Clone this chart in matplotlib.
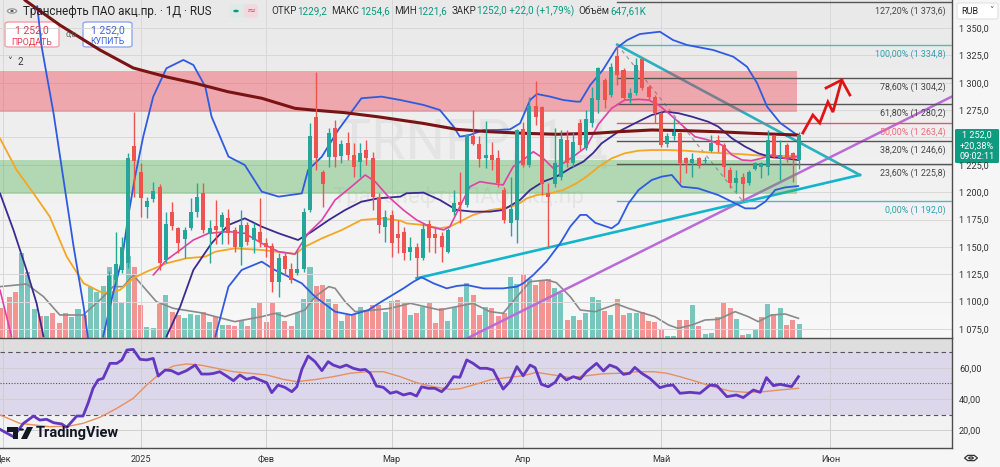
import numpy as np
import matplotlib.pyplot as plt
from matplotlib.patches import FancyBboxPatch, Circle, Polygon, RegularPolygon, Rectangle
from matplotlib.colors import LinearSegmentedColormap

plt.rcParams['font.family'] = ['Roboto', 'DejaVu Sans']

# ---------------- data (bar index = trading day, 0 = 2 Dec 2024) ----------------
month_bars = [0, 22, 42, 62, 83, 105, 132]
month_labels = ['Дек', '2025', 'Фев', 'Мар', 'Апр', 'Май', 'Июн']

candle_bars = list(range(17, 128))
opens = [1062, 1120, 1129, 1135, 1242.2, 1218.8, 1186.2, 1193.5, 1205.1, 1138.0,
         1182.2, 1167.0, 1156.9, 1167.6, 1182.2, 1198.9, 1161.8, 1169.0, 1168.5, 1176.0,
         1165.5, 1150.2, 1170.0, 1156.3, 1164.0, 1153.3, 1150.8, 1118.2, 1141.7, 1129.5,
         1125.8, 1129.5, 1183.7, 1269.0, 1218.8, 1232.5, 1258.3, 1233.0, 1244.6, 1234.0,
         1228.0, 1238.5, 1231.0, 1195.9, 1168.5, 1179.0, 1162.0, 1164.0, 1145.6, 1150.2,
         1139.6, 1171.0, 1161.8, 1160.3, 1145.6, 1182.2, 1191.3, 1188.3, 1251.3, 1244.0,
         1231.0, 1234.0, 1231.0, 1202.0, 1172.0, 1175.0, 1257.4, 1225.0, 1278.8, 1278.0,
         1199.6, 1207.5, 1214.2, 1247.7, 1226.4, 1262.9, 1240.0, 1263.0, 1284.3, 1302.5,
         1288.8, 1324.4, 1311.7, 1285.8, 1290.3, 1321.4, 1296.4, 1287.3, 1272.0, 1244.0,
         1251.3, 1254.4, 1230.9, 1227.0, 1231.0, 1228.5, 1238.0, 1247.7, 1243.1, 1220.3,
         1208.1, 1214.2, 1208.7, 1220.9, 1222.7, 1223.3, 1251.3, 1231.0, 1243.1, 1235.5,
         1229.2]
highs = [1128, 1164, 1159, 1236, 1273.6, 1226.4, 1195.9, 1209.6, 1207.5, 1182.2,
         1191.3, 1168.5, 1168.5, 1194.4, 1208.1, 1208.1, 1175.0, 1193.0, 1182.0, 1185.0,
         1168.5, 1183.7, 1173.0, 1171.5, 1194.4, 1157.8, 1153.3, 1144.1, 1144.1, 1135.0,
         1147.2, 1185.2, 1263.0, 1310.1, 1220.3, 1258.3, 1266.0, 1247.7, 1255.3, 1244.6,
         1244.6, 1247.7, 1237.0, 1199.0, 1183.7, 1183.7, 1174.6, 1168.5, 1159.4, 1153.3,
         1171.5, 1174.6, 1168.5, 1164.0, 1167.0, 1202.0, 1218.8, 1253.2, 1275.1, 1251.3,
         1265.4, 1246.1, 1238.5, 1205.1, 1214.0, 1257.4, 1264.4, 1287.3, 1301.9, 1278.8,
         1208.1, 1258.3, 1256.8, 1256.8, 1255.3, 1266.6, 1275.1, 1296.4, 1314.7, 1304.0,
         1317.7, 1334.8, 1313.2, 1294.9, 1322.3, 1322.3, 1298.0, 1288.8, 1273.6, 1253.8,
         1267.5, 1255.3, 1232.5, 1235.5, 1232.5, 1232.0, 1252.3, 1252.3, 1244.6, 1223.3,
         1220.3, 1217.2, 1220.3, 1227.9, 1227.9, 1256.8, 1252.3, 1247.7, 1244.6, 1237.0,
         1254.6]
lows = [1050, 1116, 1126, 1131, 1195.9, 1177.6, 1176.0, 1191.3, 1128.9, 1135.0,
        1165.5, 1144.1, 1139.6, 1165.5, 1177.6, 1162.4, 1135.0, 1153.0, 1153.0, 1153.0,
        1145.6, 1133.5, 1151.8, 1144.1, 1150.2, 1141.0, 1109.1, 1104.5, 1124.3, 1116.7,
        1124.3, 1127.0, 1182.2, 1220.3, 1186.8, 1223.3, 1223.3, 1226.4, 1229.4, 1214.2,
        1214.2, 1224.8, 1183.7, 1162.4, 1154.8, 1141.0, 1144.0, 1138.0, 1138.0, 1121.3,
        1138.0, 1145.6, 1144.1, 1136.5, 1144.1, 1179.2, 1171.5, 1186.8, 1243.1, 1223.3,
        1221.8, 1220.3, 1205.1, 1171.5, 1160.0, 1153.3, 1223.3, 1223.3, 1261.4, 1197.4,
        1150.2, 1205.1, 1211.2, 1223.3, 1223.3, 1238.5, 1238.5, 1260.0, 1272.0, 1276.6,
        1287.3, 1297.9, 1284.3, 1281.2, 1288.8, 1293.4, 1284.3, 1263.0, 1241.6, 1241.6,
        1248.0, 1208.1, 1217.2, 1214.2, 1221.8, 1226.0, 1237.0, 1237.0, 1214.2, 1203.5,
        1200.5, 1192.0, 1206.6, 1220.3, 1212.6, 1215.7, 1230.9, 1211.2, 1227.9, 1209.6,
        1221.6]
closes = [1123, 1134, 1150, 1231, 1228.8, 1194.4, 1192.2, 1201.4, 1135.0, 1170.9,
          1169.1, 1153.3, 1165.5, 1182.2, 1195.9, 1165.5, 1167.6, 1165.0, 1179.2, 1163.0,
          1150.2, 1170.0, 1154.8, 1167.0, 1154.8, 1149.6, 1118.2, 1139.6, 1129.5, 1119.8,
          1129.5, 1182.2, 1251.3, 1230.9, 1207.5, 1254.4, 1232.5, 1244.0, 1234.0, 1223.3,
          1235.5, 1231.0, 1195.9, 1170.0, 1177.0, 1153.3, 1158.0, 1144.1, 1149.6, 1139.6,
          1166.1, 1157.8, 1157.8, 1150.2, 1165.5, 1190.4, 1188.3, 1252.3, 1244.0, 1230.0,
          1234.0, 1229.4, 1208.1, 1174.6, 1185.0, 1256.8, 1224.8, 1278.8, 1268.4, 1207.5,
          1195.3, 1226.4, 1248.3, 1226.4, 1246.1, 1243.1, 1266.6, 1285.8, 1313.2, 1284.3,
          1314.7, 1307.1, 1285.8, 1291.0, 1316.2, 1294.9, 1287.3, 1272.0, 1243.1, 1251.3,
          1255.3, 1226.4, 1226.4, 1230.0, 1224.0, 1229.4, 1244.6, 1243.1, 1223.3, 1208.1,
          1212.6, 1207.5, 1218.8, 1226.4, 1226.4, 1247.7, 1232.5, 1234.0, 1230.9, 1230.0,
          1252.0]

# volume, thousands (bars 0..127), and colour flag t = up, s = down
vol_k = [1372, 1912, 2143, 3947, 3068, 1326, 1018, 1018, 1141, 678,
         1172, 987, 1326, 1064, 2344, 2143, 2405, 3269, 2914, 1635,
         3793, 3269, 1527, 524, 478, 1573, 1989, 1218, 1064, 910,
         1110, 1064, 1218, 756, 956, 601, 601, 555, 833, 555,
         1372, 1635, 756, 1681, 1218, 802, 555, 1172, 1789, 3300,
         2405, 2452, 1789, 1573, 802, 1064, 1064, 1419, 1264, 1511,
         1511, 1218, 1727, 1758, 1635, 1064, 1172, 1419, 1681, 678,
         1372, 802, 1419, 1912, 2529, 1989, 1064, 1449, 1372, 1018,
         1141, 2806, 2498, 2961, 2714, 2452, 2652, 2714, 2298, 2066,
         833, 1018, 833, 1172, 1912, 1758, 1249, 1064, 1789, 1064,
         1141, 1141, 1218, 802, 756, 401, 93, 93, 833, 833,
         1527, 555, 185, 216, 956, 1635, 1372, 864, 139, 185,
         401, 956, 1573, 1110, 1372, 601, 833, 648]
vol_dir = ("ssstttstss" "sttstttttt" "tssttstsst" "ttststssts" "tssstssttt"
           "sststsstss" "stssststss" "sttstsstss" "sttstssstt" "ststttstss"
           "ttssssttss" "tsttssstst" "tststsst")

vol_ma_pts = [(-0.44, 2375), (3.8, 2498), (6.5, 1912), (9.1, 1064), (12.8, 1064), (15.5, 1758),
              (17.6, 2375), (19.2, 2375), (20.8, 2914), (24.5, 1681), (27.2, 1372), (31.5, 1172),
              (37.0, 756), (41.3, 987), (43.4, 1141), (45.0, 987), (48.2, 1295), (49.8, 1912),
              (52.0, 2375), (53.0, 2298), (54.6, 1681), (56.2, 1218), (59.4, 1295), (61.8, 1372),
              (65.0, 1604), (69.7, 1295), (75.0, 1604), (77.7, 1218), (79.8, 1141), (82.0, 1912),
              (84.1, 2606), (86.8, 2683), (88.3, 2560), (90.5, 1912), (92.1, 1295), (94.5, 1218),
              (95.5, 1326), (97.9, 1573), (99.8, 1372), (101.9, 1172), (104.0, 987), (106.2, 601),
              (107.7, 447), (109.9, 601), (112.0, 833), (114.1, 864), (116.8, 1218), (118.9, 987),
              (120.5, 756), (122.6, 1064), (124.8, 1110), (126.9, 910)]

# overlays: (bar, price); None = line leaves the visible range
sma_long_pts = [(3.5, 1375.6), (6.4, 1363.7), (9.1, 1352.7), (15.5, 1329.9), (20.8, 1313.5),
                (26.2, 1305.2), (30.7, 1299.5), (35.9, 1291.8), (41.3, 1285.8), (46.6, 1276.6),
                (49.3, 1275.1), (54.6, 1272.6), (59.8, 1268.9), (63.4, 1265.9), (67.0, 1262.9),
                (72.4, 1257.4), (77.7, 1255.2), (83.0, 1253.8), (88.4, 1252.9), (94.5, 1253.8),
                (98.1, 1255.2), (103.5, 1256.8), (108.8, 1256.2), (114.1, 1255.2), (119.5, 1253.8),
                (126.8, 1252.2)]
bb_upper_pts = [(5.5, 1370), (6.2, 1333.0), (8.1, 1272.1), (9.7, 1211.1), (11.3, 1150.2),
                (12.9, 1095.4), (13.6, 1066.4), None, (16.0, 1068), (17.6, 1107.6), (19.0, 1138),
                (20.0, 1177.6), (21.1, 1214.2), (22.4, 1250.7), (24.0, 1287.3), (26.1, 1313.2),
                (28.8, 1320.8), (30.4, 1316.2), (32.3, 1296.4), (33.3, 1269), (36.0, 1232.5),
                (38.6, 1224.8), (41.3, 1200.5), (44.0, 1195.9), (47.7, 1198.9), (48.7, 1220.3),
                (50.9, 1232.5), (53.5, 1256.8), (57.2, 1285.8), (60.4, 1287.3), (63.4, 1284.2),
                (67.1, 1279.7), (69.7, 1275.1), (71.9, 1259.9), (72.9, 1250.7), (74.5, 1252.3),
                (76.7, 1256.8), (78.8, 1256.8), (80.9, 1257.4), (82.5, 1262.9), (84.1, 1284.2),
                (85.2, 1289.7), (87.3, 1287.3), (89.4, 1284.2), (91.5, 1282.7), (92.1, 1282.7),
                (93.7, 1297.9), (95.7, 1311.6), (97.9, 1331.7), (99.6, 1339.0), (101.6, 1344.5),
                (104.8, 1346.6), (106.9, 1339.0), (109.1, 1334.5), (113.3, 1329.9), (116.5, 1323.8),
                (118.7, 1314.6), (120.3, 1299.7), (121.9, 1278.1), (124.0, 1263.2), (126.7, 1252.2)]
bb_lower_pts = [(33.9, 1068), (36.0, 1113.7), (38.1, 1128.9), (41.3, 1136.5), (43.4, 1128.9),
                (46.1, 1121.3), (47.7, 1116.7), (49.8, 1104.5), (53.0, 1090.8), (55.6, 1087.8),
                (58.3, 1092.3), (60.4, 1100.0), (63.9, 1112.1), (65.5, 1118.2), (66.8, 1122.2),
                (68.7, 1116.7), (70.8, 1112.1), (72.4, 1114.3), (74.0, 1115.2), (76.6, 1112.1),
                (79.8, 1112.1), (82.0, 1113.7), (83.0, 1116.7), (84.6, 1124.3), (86.7, 1136.5),
                (88.9, 1153.3), (90.5, 1168.5), (92.1, 1179.2), (93.1, 1179.2), (94.5, 1172.0),
                (97.1, 1167.0), (98.2, 1171.5), (99.8, 1189.8), (101.4, 1202.0), (103.5, 1211.1),
                (105.1, 1214.2), (106.7, 1215.7), (108.3, 1205.0), (110.9, 1203.5), (114.1, 1197.4),
                (116.8, 1189.8), (118.4, 1185.2), (120.0, 1185.2), (121.6, 1191.3), (123.2, 1202.0),
                (124.8, 1204.4), (126.9, 1205.6)]
bb_mid_pts = [(-0.44, 1199), (1.7, 1165.5), (3.8, 1128.9), (5.4, 1098.4), (6.5, 1068), None,
              (26.1, 1068), (28.3, 1095.4), (30.4, 1128.9), (33.3, 1153.3), (36.0, 1170.0),
              (38.6, 1176.1), (41.3, 1168.5), (44.0, 1162.4), (47.1, 1156.3), (49.3, 1164.0),
              (52.0, 1174.6), (54.6, 1183.7), (57.2, 1191.3), (59.9, 1194.4), (63.4, 1195.9),
              (64.4, 1199.0), (67.1, 1199.6), (69.7, 1192.9), (72.4, 1183.7), (75.0, 1182.2),
              (77.7, 1182.2), (79.8, 1183.7), (82.5, 1192.9), (84.1, 1202.0), (86.2, 1209.6),
              (88.3, 1214.2), (90.5, 1221.8), (92.6, 1227.9), (94.2, 1236.0), (95.5, 1244.6),
              (98.2, 1255.3), (100.8, 1262.9), (103.5, 1270.5), (105.6, 1273.6), (107.8, 1272.1),
              (109.9, 1269.0), (112.5, 1264.4), (114.1, 1259.9), (116.3, 1249.2), (118.4, 1241.6),
              (120.5, 1235.5), (122.6, 1231.9), (124.8, 1230.9), (126.9, 1229.4)]
ema_fast_pts = [(-0.44, 1110.6), (1.4, 1068), None, (24.0, 1124.3), (26.1, 1138.0), (28.3, 1147.2),
                (30.4, 1156.3), (32.8, 1162.4), (36.0, 1164.0), (38.6, 1162.4), (41.3, 1153.3),
                (44.0, 1145.6), (46.6, 1143.5), (48.7, 1162.4), (50.9, 1174.6), (53.0, 1192.9),
                (55.6, 1205.0), (57.8, 1215.7), (59.4, 1209.6), (61.5, 1195.9), (63.9, 1183.7),
                (66.0, 1174.6), (68.1, 1168.5), (70.3, 1165.5), (71.3, 1168.5), (72.9, 1186.8),
                (74.5, 1205.0), (76.1, 1209.6), (77.7, 1208.1), (79.8, 1206.6), (81.4, 1223.3),
                (83.0, 1229.4), (84.6, 1237.0), (86.2, 1230.9), (87.8, 1221.8), (89.4, 1226.4),
                (91.0, 1232.5), (93.1, 1241.6), (95.0, 1262.0), (97.1, 1276.6), (99.2, 1284.2),
                (101.4, 1284.8), (103.0, 1284.2), (104.6, 1279.7), (106.2, 1272.1), (108.3, 1261.4),
                (110.4, 1250.7), (112.5, 1247.7), (114.7, 1243.1), (116.3, 1234.0), (117.9, 1229.4),
                (119.4, 1228.8), (121.0, 1230.9), (122.6, 1234.0), (124.8, 1230.9), (126.9, 1232.5)]
sma_mid_pts = [(-0.44, 1249.2), (2.2, 1220.3), (4.9, 1199.0), (7.5, 1177.6), (10.2, 1141.1),
               (12.9, 1116.7), (15.5, 1109.1), (17.1, 1108.2), (18.7, 1110.6), (20.8, 1121.3),
               (22.95, 1127.4), (26.1, 1135.0), (29.3, 1139.6), (32.3, 1141.1), (33.9, 1145.6),
               (37.0, 1148.7), (41.3, 1147.2), (45.0, 1144.7), (46.6, 1143.5), (48.2, 1150.2),
               (50.9, 1157.8), (54.1, 1165.5), (57.2, 1174.6), (60.4, 1176.1), (63.4, 1174.0),
               (64.4, 1171.5), (67.1, 1170.0), (69.7, 1167.0), (71.3, 1168.5), (72.9, 1173.1),
               (75.0, 1179.2), (77.7, 1183.7), (79.8, 1185.2), (82.0, 1188.3), (83.6, 1194.4),
               (85.2, 1197.4), (87.3, 1198.9), (89.4, 1202.0), (91.5, 1208.1), (93.1, 1214.2),
               (95.0, 1223.0), (97.1, 1230.9), (99.2, 1235.5), (101.4, 1237.9), (103.5, 1238.5),
               (106.2, 1238.5), (108.8, 1237.9), (110.9, 1237.0), (113.1, 1236.1), (115.2, 1235.5),
               (117.3, 1234.9), (119.4, 1234.0), (121.6, 1233.1), (123.7, 1233.1), (126.9, 1233.1)]

rsi_pts = [(-0.44, 20.4), (1.7, 15.7), (3.3, 24.3), (4.9, 29.0), (5.9, 26.4), (7.0, 26.9),
           (8.1, 24.7), (9.4, 23.9), (10.2, 21.7), (11.0, 25.4), (11.8, 29.0), (12.8, 29.0),
           (13.6, 37.2), (14.4, 46.9), (15.2, 52.3), (16.0, 53.3), (17.1, 63.0), (18.2, 63.0),
           (19.0, 65.2), (19.8, 71.6), (20.8, 72.0), (21.9, 65.6), (22.95, 65.2), (24.0, 66.2),
           (24.8, 54.8), (25.9, 58.7), (26.9, 58.3), (28.0, 56.1), (29.3, 58.3), (30.7, 61.9),
           (31.7, 56.1), (32.8, 56.1), (33.6, 56.5), (34.6, 57.6), (35.7, 54.8), (36.8, 51.8),
           (37.8, 55.5), (38.9, 52.7), (40.0, 54.0), (41.0, 52.3), (42.1, 50.5), (42.9, 44.1),
           (43.9, 49.0), (45.0, 47.5), (46.1, 44.7), (46.9, 47.9), (47.7, 59.1), (48.7, 67.7),
           (49.8, 64.1), (50.9, 58.3), (51.9, 64.1), (52.7, 61.9), (53.8, 60.4), (54.8, 61.9),
           (55.9, 59.8), (57.0, 58.7), (57.8, 59.1), (58.6, 56.6), (59.6, 48.4), (60.7, 47.5),
           (61.8, 43.7), (62.8, 44.7), (63.9, 42.6), (65.0, 43.7), (66.0, 41.9), (66.8, 47.9),
           (67.9, 46.9), (68.9, 46.9), (70.0, 44.7), (70.8, 47.9), (71.9, 54.4), (72.9, 54.0),
           (74.0, 65.2), (75.0, 63.0), (76.1, 59.8), (77.2, 59.8), (78.2, 58.7), (79.8, 46.4),
           (80.9, 51.2), (82.0, 60.9), (83.0, 55.0), (84.1, 61.9), (84.9, 60.2), (85.9, 49.5),
           (87.0, 47.9), (88.1, 50.8), (88.9, 55.9), (89.9, 52.3), (91.0, 54.4), (92.1, 52.9),
           (93.1, 57.6), (94.7, 63.0), (95.8, 58.1), (96.8, 61.9), (97.9, 60.2), (99.0, 55.9),
           (100.0, 56.6), (100.8, 60.4), (101.9, 56.6), (103.2, 53.3), (104.8, 47.3), (105.9, 48.6),
           (106.9, 49.0), (108.0, 43.7), (109.6, 44.3), (111.2, 43.7), (112.8, 49.0), (113.9, 48.6),
           (115.5, 41.5), (117.0, 42.6), (118.1, 40.9), (119.7, 45.8), (120.8, 44.3), (121.8, 53.8),
           (122.9, 48.6), (124.0, 49.5), (125.0, 48.6), (125.8, 48.0), (126.9, 54.4)]
rsi_ma_pts = [(-0.44, 29.7), (2.7, 24.3), (7.5, 22.1), (10.7, 22.6), (12.8, 24.3), (15.5, 28.2),
              (18.2, 34.0), (20.8, 40.4), (22.95, 49.0), (25.1, 56.6), (27.2, 61.3), (29.3, 62.6),
              (31.5, 61.9), (34.1, 59.8), (36.8, 57.6), (39.4, 56.6), (42.1, 55.5), (44.7, 52.7),
              (46.9, 51.2), (50.1, 52.7), (52.7, 54.4), (55.4, 56.6), (58.0, 57.6), (60.7, 57.6),
              (63.4, 54.4), (66.0, 50.5), (68.7, 47.9), (71.3, 46.2), (72.9, 46.6), (75.0, 49.0),
              (77.7, 52.3), (80.4, 53.8), (83.0, 55.0), (85.1, 57.2), (87.8, 55.5), (90.5, 53.8),
              (93.1, 55.0), (95.8, 56.3), (98.4, 56.6), (101.1, 57.6), (103.8, 57.6), (105.9, 56.6),
              (108.0, 54.4), (110.7, 51.2), (113.3, 47.9), (116.0, 45.1), (118.6, 44.3), (121.3, 44.7),
              (123.9, 45.8), (126.9, 46.9)]

fib_ratio = [127.2, 100.0, 78.6, 61.8, 50.0, 38.2, 23.6, 0.0]
fib_price = [1373.6, 1334.8, 1304.2, 1280.2, 1263.4, 1246.6, 1225.8, 1192.0]
fib_start_bar = 98

red_zone = (1273.5, 1311.0)
green_zone = (1198.3, 1229.4)
zone_end_bar = 126.7

tri_upper = [(98, 1334.8), (136.7, 1215.7)]
tri_lower = [(66, 1121.3), (136.7, 1215.7)]
support_line = [(74.5, 1067.7), (118, 1192.0)]
fib_diag = [(98, 1334.8), (118, 1192.0)]
zig_pts = [(127.6, 1254.1), (129.2, 1270.5), (130.3, 1263.2), (131.6, 1282.4), (132.4, 1273.2), (133.8, 1302.5)]
zig_head = [(131.3, 1295.2), (133.8, 1302.5), (135.1, 1288.8)]

price_ticks = list(range(1075, 1351, 25))
hidden_ticks = [1250]          # covered by the last-price label on the scale
rsi_ticks = [20, 40, 60]

header_parts = [('ОТКР', '1229,2'), ('МАКС', '1254,6'), ('МИН', '1221,6'),
                ('ЗАКР', '1252,0 +22,0 (+1,79%)'), ('Объём', '647,61K')]

# ---------------- helpers ----------------
W, H = 1000, 467
GREEN, RED = '#26a69a', '#ef5350'


def fx(px):
    return px / W


def fy(py):
    return 1 - py / H


def fmt_price(p):
    return f"{p:,.1f}".replace(',', ' ').replace('.', ',')


def xy(pts):
    xs = [np.nan if p is None else p[0] for p in pts]
    ys = [np.nan if p is None else p[1] for p in pts]
    return xs, ys


XLIM = (-0.44, 151.39)
YLIM = (1066.76, 1375.58)
RLIM = (8.39, 79.35)

fig = plt.figure(figsize=(10, 4.67), dpi=100)
fig.patch.set_facecolor('#f6f6f6')

rect_main = [0, fy(338), 0.952, 338 / H]
bg = fig.add_axes(rect_main)
bg.imshow(np.linspace(0, 1, 256).reshape(-1, 1), aspect='auto', extent=[0, 1, 0, 1],
          cmap=LinearSegmentedColormap.from_list('bg', ['#e9e9e9', '#f8f8f8']))
bg.axis('off')
bg.set_zorder(0)

ax = fig.add_axes(rect_main)
ax.set_zorder(2)
ax.patch.set_visible(False)
vax = ax.twinx()
vax.set_zorder(1)
vax.patch.set_visible(False)

rsi = fig.add_axes([0, fy(448), 0.952, 110 / H], sharex=ax)

# ---------------- volume ----------------
vcol = [GREEN if d == 't' else RED for d in vol_dir]
vax.bar(range(len(vol_k)), vol_k, width=0.8, color=vcol, alpha=0.6, linewidth=0)
vmx, vmy = xy(vol_ma_pts)
vax.plot(vmx, vmy, color='#8a8a8a', lw=1.2)
vax.set_ylim(0, 338 * 46.25)
vax.axis('off')

# ---------------- main pane ----------------
ax.set_xlim(*XLIM)
ax.set_ylim(*YLIM)
ax.set_yticks(price_ticks, labels=['' if p in hidden_ticks else fmt_price(p) for p in price_ticks])
ax.set_xticks(month_bars)
ax.yaxis.tick_right()
ax.tick_params(axis='y', length=0, pad=5, labelsize=6.6, labelcolor='#333333')
ax.tick_params(axis='x', length=0, labelbottom=False)
ax.grid(True, color='#d8d8d8', lw=0.7)
for s in ['left', 'top']:
    ax.spines[s].set_visible(False)
for s in ['right', 'bottom']:
    ax.spines[s].set_color('#4d4d4d')
    ax.spines[s].set_linewidth(1)

# watermark
ax.text(53.5, 1244.9, 'TRNFP, 1Д', fontsize=40, color='#000000', alpha=0.045, va='center', ha='left', zorder=1)
ax.text(72.6, 1195.6, 'Транснефть ПАО акц.пр', fontsize=16, color='#000000', alpha=0.05,
        va='center', ha='center', zorder=1)

# trend lines
ax.axline(*support_line, color='#bb6bd9', lw=1.8, zorder=2)
ax.plot(*zip(*tri_lower), color='#13b5cc', lw=1.9, zorder=2)
ax.plot(*zip(*tri_upper), color='#2ab0c0', lw=1.9, zorder=2)
ax.plot(*zip(*fib_diag), color='#9a9a9a', lw=0.9, ls=(0, (3, 3)), zorder=2)

# zones
ax.add_patch(Rectangle((XLIM[0] - 1, red_zone[0]), zone_end_bar - XLIM[0] + 1, red_zone[1] - red_zone[0],
                       facecolor='#f23645', alpha=0.38, lw=0, zorder=3))
ax.add_patch(Rectangle((XLIM[0] - 1, green_zone[0]), zone_end_bar - XLIM[0] + 1, green_zone[1] - green_zone[0],
                       facecolor='#4caf50', alpha=0.38, lw=0, zorder=3))

# fibonacci levels
for r, p in zip(fib_ratio, fib_price):
    if r in (0.0, 100.0):
        lc, tc = '#5ab4c4', '#2f9fb3'
    elif r == 50.0:
        lc, tc = '#e05a5a', '#f06a78'
    else:
        lc, tc = '#555555', '#444444'
    ax.plot([fib_start_bar, XLIM[1]], [p, p], color=lc, lw=1, zorder=3.5)
    label = f"{r:.2f}%".replace('.', ',') + f" ({fmt_price(p)})"
    ax.annotate(label, xy=(150.4, p), xytext=(0, -6.6), textcoords='offset points',
                ha='right', va='center', fontsize=6.4, color=tc, zorder=6)

# indicator lines
for pts, col, lw in [(sma_mid_pts, '#f5a623', 1.3), (bb_lower_pts, '#2f5be0', 1.3),
                     (bb_upper_pts, '#2f5be0', 1.3), (bb_mid_pts, '#3b2a8f', 1.3),
                     (ema_fast_pts, '#e040a8', 1.2), (sma_long_pts, '#7a1414', 2.2)]:
    lx, ly = xy(pts)
    ax.plot(lx, ly, color=col, lw=lw, zorder=4, solid_capstyle='round')

# candles
o = np.array(opens)
h = np.array(highs)
l = np.array(lows)
c = np.array(closes)
ccol = np.where(c >= o, GREEN, RED)
ax.vlines(candle_bars, l, h, colors=ccol, lw=1, zorder=5)
ax.bar(candle_bars, np.maximum(np.abs(c - o), 0.8), bottom=np.minimum(o, c), width=0.64,
       color=ccol, lw=0, zorder=5)

# red arrow
ax.plot(*zip(*zig_pts), color='#e01414', lw=2, zorder=6, solid_joinstyle='miter')
ax.plot(*zip(*zig_head), color='#e01414', lw=2, zorder=6, solid_joinstyle='miter')

# ---------------- RSI pane ----------------
rsi.set_xlim(*XLIM)
rsi.set_ylim(*RLIM)
rsi.set_facecolor('#f2f2f2')
rsi.axhspan(70, RLIM[1], color='#dedede', lw=0, zorder=0)
rsi.axhspan(30, 70, color='#dcd7ea', lw=0, zorder=0)
rsi.set_yticks(rsi_ticks, labels=[f"{v:.2f}".replace('.', ',') for v in rsi_ticks])
rsi.set_xticks(month_bars, labels=month_labels)
rsi.yaxis.tick_right()
rsi.tick_params(axis='y', length=0, pad=5, labelsize=6.6, labelcolor='#333333')
rsi.tick_params(axis='x', length=0, pad=5, labelsize=6.6, labelcolor='#333333')
rsi.grid(True, color='#cfcfcf', lw=0.7)
rsi.set_axisbelow(True)
for v, ls in [(70, (0, (4, 3))), (30, (0, (4, 3))), (50, (0, (1, 1.5)))]:
    rsi.axhline(v, color='#555555', lw=0.8, ls=ls, zorder=1)
for s in ['left', 'top']:
    rsi.spines[s].set_visible(False)
for s in ['right', 'bottom']:
    rsi.spines[s].set_color('#4d4d4d')
    rsi.spines[s].set_linewidth(1)
rx, ry = xy(rsi_ma_pts)
rsi.plot(rx, ry, color='#e8905e', lw=1, zorder=2)
rx, ry = xy(rsi_pts)
rsi.plot(rx, ry, color='#6437c0', lw=2, zorder=3)

# ---------------- overlay decorations (pixel positions) ----------------
def fbox(x0, y0, x1, y1, fc, ec, lw=1, r=0.004):
    fig.add_artist(FancyBboxPatch((fx(x0), fy(y1)), fx(x1) - fx(x0), fy(y0) - fy(y1),
                                  boxstyle=f'round,pad=0,rounding_size={r}', transform=fig.transFigure,
                                  facecolor=fc, edgecolor=ec, lw=lw))


def ftext(x, y, s, **kw):
    kw.setdefault('va', 'center')
    return fig.text(fx(x), fy(y), s, **kw)


# header
fig.add_artist(Circle((fx(12), fy(11)), 0.0045, transform=fig.transFigure, facecolor='white',
                      edgecolor='#9a9a9a', lw=1))
fig.add_artist(Circle((fx(12), fy(11)), 0.0018, transform=fig.transFigure, facecolor='#333333', lw=0))
ftext(23, 11, 'Транснефть ПАО акц.пр. · 1Д · RUS', fontsize=8.4, color='#222222')
fbox(229, 4, 258, 18, '#dfe9e6', 'none', r=0.006)
fbox(244, 4, 258, 18, '#f3d9dd', 'none', r=0.006)
fig.add_artist(Circle((fx(236), fy(11)), 0.0028, transform=fig.transFigure, facecolor='#089981', lw=0))
ftext(251, 11, '≈', fontsize=8, color='#e0507a', ha='center', family=['DejaVu Sans'])

renderer = fig.canvas.get_renderer()
hx = 271
for lab, val in header_parts:
    t = ftext(hx, 11, lab, fontsize=7.1, color='#333333')
    hx += t.get_window_extent(renderer).width + 0.5
    t = ftext(hx, 11, val, fontsize=7.1, color='#089981')
    hx += t.get_window_extent(renderer).width + 4.5

# sell / buy
fbox(5, 22, 59, 47, 'white', '#f4a0a6', lw=1)
ftext(32, 30.5, '1 252,0', fontsize=7.5, color='#e8394a', ha='center')
ftext(32, 41.5, 'ПРОДАТЬ', fontsize=6.3, color='#e8394a', ha='center')
ftext(71, 34, '0,0', fontsize=6, color='#555555', ha='center')
fbox(83, 22, 132, 47, 'white', '#8fa9f2', lw=1)
ftext(107.5, 30.5, '1 252,0', fontsize=7.5, color='#3d63d8', ha='center')
ftext(107.5, 41.5, 'КУПИТЬ', fontsize=6.3, color='#3d63d8', ha='center')
ftext(7, 62, '˅', fontsize=7, color='#333333', family=['DejaVu Sans'])
ftext(17, 62, '2', fontsize=7, color='#333333')

# right scale boxes
fbox(957, 3, 998, 19, 'white', '#e2e2e2', lw=0.8, r=0.003)
ftext(961, 11, 'RUB', fontsize=6.5, color='#222222')
ftext(991, 10, '˅', fontsize=6.5, color='#444444', ha='center', family=['DejaVu Sans'])
fbox(955, 129, 999, 163, '#0f9b7f', 'none', r=0.002)
ftext(977, 135.5, '1 252,0', fontsize=6.6, color='white', ha='center')
ftext(977, 145.8, '+20,38%', fontsize=6.6, color='white', ha='center')
ftext(977, 156, '09:02:11', fontsize=6.6, color='white', ha='center')

# TradingView logo
fig.add_artist(Polygon([(fx(7), fy(427)), (fx(18), fy(427)), (fx(18), fy(439)), (fx(13), fy(439)),
                        (fx(13), fy(432)), (fx(7), fy(432))], closed=True, transform=fig.transFigure,
                       facecolor='#131722', lw=0))
fig.add_artist(Circle((fx(21.5), fy(429.5)), 0.0024, transform=fig.transFigure, facecolor='#131722', lw=0))
fig.add_artist(Polygon([(fx(27), fy(427)), (fx(33), fy(427)), (fx(27), fy(439)), (fx(21), fy(439))],
                       closed=True, transform=fig.transFigure, facecolor='#131722', lw=0))
ftext(36, 433, 'TradingView', fontsize=10.5, color='#131722', fontweight='bold')

# settings icon
fig.add_artist(RegularPolygon((fx(971), fy(458)), 6, radius=0.0065, orientation=np.pi / 6,
                              transform=fig.transFigure, facecolor='none', edgecolor='#333333', lw=0.9))
fig.add_artist(Circle((fx(971), fy(458)), 0.0022, transform=fig.transFigure, facecolor='none',
                      edgecolor='#333333', lw=0.9))

fig.savefig('out.png', dpi=100, facecolor=fig.get_facecolor())
